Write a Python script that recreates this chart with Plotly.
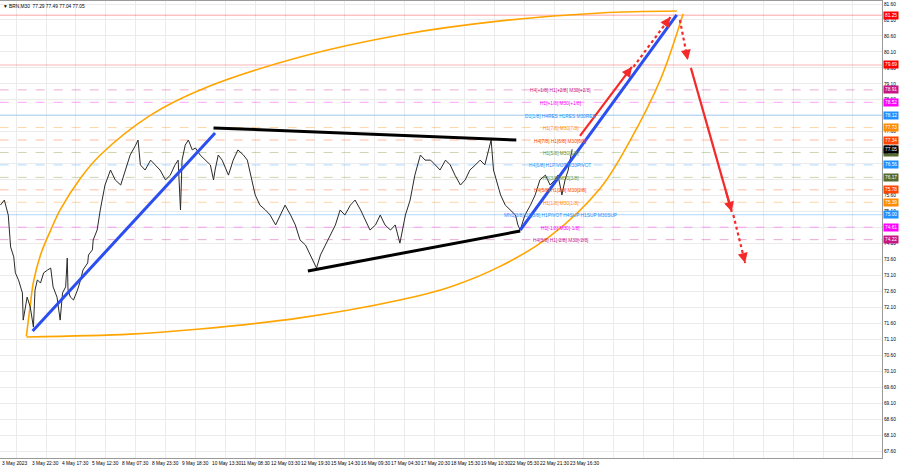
import plotly.graph_objects as go

# ---------------- data ----------------
bars = [0,5,10,13,17,19,23,28,29,34,38,42,44,47,51,55,60,64,67,72,
        76,79,83,85,86,89,93,98,102,105,111,112,117,118,123,127,133,140,146,153,
        159,165,172,175,178,184,191,197,203,210,216,222,226,229,231,235,239,244,248,254,
        261,267,271,273,277,282,290,296,302,309,314,318,324,330,337,343,350,356,362,369,
        375,381,388,394,402,407,413,419,426,432,438,445,451,458,464,470,477,483,489,496,
        502,508,515,521,527,534,540,547,553,559,566,572,578,585,591,597,604,610,616,624,
        627,632,636,642,648,655,658,661,667,674,680,686,693,699,705,709,714,718,722,727]
price = [75.30,75.46,74.99,73.99,73.68,73.18,72.96,72.55,71.70,72.42,
         72.11,71.48,72.64,72.96,72.86,73.18,73.27,73.33,72.74,72.42,
         71.70,72.55,72.74,73.64,72.64,72.42,72.33,72.64,72.96,73.27,
         73.49,73.74,73.90,74.21,74.52,75.15,75.93,76.40,76.09,75.93,
         76.40,76.87,77.18,77.34,76.56,76.40,76.71,76.56,76.40,76.09,
         76.24,76.56,76.71,75.15,76.71,77.18,77.34,77.03,77.09,76.87,
         76.71,76.56,76.09,76.40,76.87,76.71,76.24,76.71,77.03,76.87,
         76.71,76.24,75.62,75.30,75.15,74.99,74.68,74.99,75.30,74.99,
         74.68,74.21,74.05,73.74,73.33,73.74,74.05,74.36,74.68,75.15,
         74.99,75.30,75.46,75.15,74.83,74.52,74.68,74.99,74.68,74.52,
         74.68,74.11,74.99,75.46,76.24,76.87,76.71,76.71,76.56,76.40,
         76.71,76.56,76.24,75.93,76.09,76.40,76.56,76.71,76.56,77.34,
         76.40,75.93,75.62,75.30,75.15,74.99,74.68,74.52,74.99,75.30,
         75.62,76.09,76.24,75.93,76.09,76.24,75.62,76.09,76.40,77.05]

label_bars = [0,38,76,114,152,190,228,266,304,342,380,418,456,494,532,570,608,646,684,722]
label_text = ["3 May 2023","3 May 22:30","4 May 17:30","5 May 12:30","8 May 07:30",
              "8 May 23:30","9 May 18:30","10 May 13:30","11 May 08:30","12 May 03:30",
              "12 May 19:30","15 May 14:30","16 May 09:30","17 May 04:30","17 May 20:30",
              "18 May 15:30","19 May 10:30","22 May 05:30","22 May 21:30","23 May 16:30"]
grid_bars = [20 + 38 * k for k in range(30)]
y_ticks = [67.60 + 0.5 * k for k in range(29)]

level_price = [81.25, 79.69, 78.91, 78.52, 78.12, 77.73, 77.34, 76.95, 76.56, 76.17,
               75.78, 75.39, 75.00, 74.61, 74.22]
level_text = ["", "", "H4[+1/8] H1[+2/8] M30[+2/8]", "H1[+1/8] M30[+1/8]",
              "D1[1/8] H4RES H1RES M30RES", "H1[7/8] M30[7/8]", "H4[7/8] H1[6/8] M30[6/8]",
              "H1[5/8] M30[5/8]", "H4[6/8] H1PIVOT M30PIVOT", "H1[3/8] M30[3/8]",
              "H4[5/8] H1[2/8] M30[2/8]", "H1[1/8] M30[1/8]",
              "MN1[3/8] D1[3/8] H1PIVOT H4SUP H1SUP M30SUP", "H1[-1/8] M30[-1/8]",
              "H4[3/8] H1[-2/8] M30[-2/8]"]
level_color = ["#ff0000", "#ff3030", "#c71585", "#ff00ff", "#1e90ff", "#ff8c00", "#ff4500",
               "#6b8e23", "#1e90ff", "#6b8e23", "#ff4500", "#ff8c00", "#1e90ff", "#ff00ff", "#c71585"]
level_dash = ["solid", "solid", "dash", "dash", "solid", "dash", "dash", "dash", "dash", "dash",
              "dash", "dash", "solid", "dash", "dash"]
tag_color = ["#ff0000", "#ff0000", "#c71585", "#ff00ff", "#1e90ff", "#ff8c00", "#ff4500",
             "#556b2f", "#1e90ff", "#556b2f", "#ff4500", "#ff8c00", "#1e90ff", "#ff00ff", "#c71585"]
current_price = 77.05

blue1_x, blue1_y = [41, 273], [71.36, 77.56]
blue2_x, blue2_y = [661, 860], [74.52, 81.26]
black1_x, black1_y = [271, 656], [77.72, 77.34]
black2_x, black2_y = [391, 661], [73.24, 74.49]
red_up_x, red_up_y = [737, 803], [77.47, 79.63]
red_updot_x, red_updot_y = [805, 852], [79.63, 81.19]
red_dndot_x, red_dndot_y = [864, 874], [81.10, 79.85]
red_dn_x, red_dn_y = [878, 930], [79.60, 75.09]
red_dndot2_x, red_dndot2_y = [932, 947], [74.99, 73.49]

arc_up_x = [33, 38, 42, 51, 64, 76, 102, 127, 191, 254, 381, 508, 636, 763, 860]
arc_up_y = [71.20, 72.17, 72.89, 73.74, 74.52, 75.15, 76.15, 76.87, 78.12, 78.91, 79.94, 80.63, 81.07, 81.32, 81.38]
arc_lo_x = [33, 165, 254, 381, 508, 572, 636, 699, 763, 801, 839, 868]
arc_lo_y = [71.17, 71.26, 71.42, 71.77, 72.33, 72.74, 73.39, 74.33, 75.84, 77.34, 79.22, 81.29]

# ---------------- figure ----------------
FONT = "Liberation Sans"
SMALL = 4.8
fig = go.Figure()

for p, c, d in zip(level_price, level_color, level_dash):
    fig.add_trace(go.Scatter(x=[-1, 1125], y=[p, p], mode="lines",
                             line=dict(color=c, width=1, dash=d), opacity=0.35,
                             hoverinfo="skip", showlegend=False))

fig.add_trace(go.Scatter(x=arc_up_x, y=arc_up_y, mode="lines", line=dict(color="#ffa500", width=1.6, shape="spline"),
                         showlegend=False))
fig.add_trace(go.Scatter(x=arc_lo_x, y=arc_lo_y, mode="lines", line=dict(color="#ffa500", width=1.6, shape="spline"),
                         showlegend=False))

fig.add_trace(go.Scatter(x=bars, y=price, mode="lines", line=dict(color="#2a2a2a", width=1),
                         showlegend=False))

for xs, ys, col in [(blue1_x, blue1_y, "#2b4ef0"), (blue2_x, blue2_y, "#2b4ef0"),
                    (black1_x, black1_y, "#000000"), (black2_x, black2_y, "#000000")]:
    fig.add_trace(go.Scatter(x=xs, y=ys, mode="lines", line=dict(color=col, width=3), showlegend=False))

for xs, ys, d in [(red_up_x, red_up_y, "solid"), (red_updot_x, red_updot_y, "dot"),
                  (red_dndot_x, red_dndot_y, "dot"), (red_dn_x, red_dn_y, "solid"),
                  (red_dndot2_x, red_dndot2_y, "dot")]:
    fig.add_trace(go.Scatter(x=xs, y=ys, mode="lines", line=dict(color="#f42a2a", width=2.2, dash=d),
                             showlegend=False))
    fig.add_annotation(x=xs[1], y=ys[1], ax=xs[1] - (xs[1] - xs[0]) * 0.15, ay=ys[1] - (ys[1] - ys[0]) * 0.15,
                       xref="x", yref="y", axref="x", ayref="y", text="", showarrow=True,
                       arrowhead=2, arrowsize=1, arrowwidth=2, arrowcolor="#f42a2a")

for p, t, c in zip(level_price, level_text, level_color):
    if t:
        fig.add_annotation(x=712, y=p, text=t, showarrow=False, xref="x", yref="y",
                           font=dict(family=FONT, size=SMALL, color=c), yshift=-1)

for p, c in zip(level_price, tag_color):
    fig.add_annotation(x=1, y=p, xref="paper", yref="y", xanchor="left", text="%.2f" % p,
                       showarrow=False, bgcolor=c, font=dict(family=FONT, size=SMALL, color="white"),
                       borderpad=1, xshift=1)
fig.add_annotation(x=1, y=current_price, xref="paper", yref="y", xanchor="left", text="%.2f" % current_price,
                   showarrow=False, bgcolor="#000000", font=dict(family=FONT, size=SMALL, color="white"),
                   borderpad=1, xshift=1)

for b, t in zip(label_bars, label_text):
    fig.add_annotation(x=b, y=0, xref="x", yref="paper", xanchor="left", yanchor="top", text=t,
                       showarrow=False, font=dict(family=FONT, size=SMALL, color="#000"), yshift=-1)

fig.add_annotation(x=0, y=1, xref="paper", yref="paper", xanchor="left", yanchor="top",
                   text="\u25bc BRN,M30  77.29 77.49 77.04 77.05", showarrow=False,
                   font=dict(family=FONT, size=SMALL, color="#000000"), xshift=1, yshift=-1)

fig.update_layout(
    width=900, height=468, margin=dict(l=0, r=18, t=1, b=10, autoexpand=False),
    plot_bgcolor="white", paper_bgcolor="white", showlegend=False,
    xaxis=dict(range=[-0.5, 1121], tickvals=grid_bars, showticklabels=False,
               automargin=False, showgrid=True, gridcolor="#ebebeb", gridwidth=1, zeroline=False,
               showline=True, linecolor="#9a9a9a", mirror=True, ticks=""),
    yaxis=dict(range=[67.381, 81.694], side="right", tickvals=y_ticks, automargin=False,
               ticktext=["%.2f" % v for v in y_ticks], tickfont=dict(family=FONT, size=SMALL, color="#000"),
               showgrid=True, gridcolor="#ebebeb", gridwidth=1, zeroline=False,
               showline=True, linecolor="#9a9a9a", mirror=True, ticks=""),
)

fig.write_html("out.html", config={"displayModeBar": False},
               post_script="document.body.style.margin='0';document.body.style.padding='0';"
                           "document.body.style.overflow='hidden';")
